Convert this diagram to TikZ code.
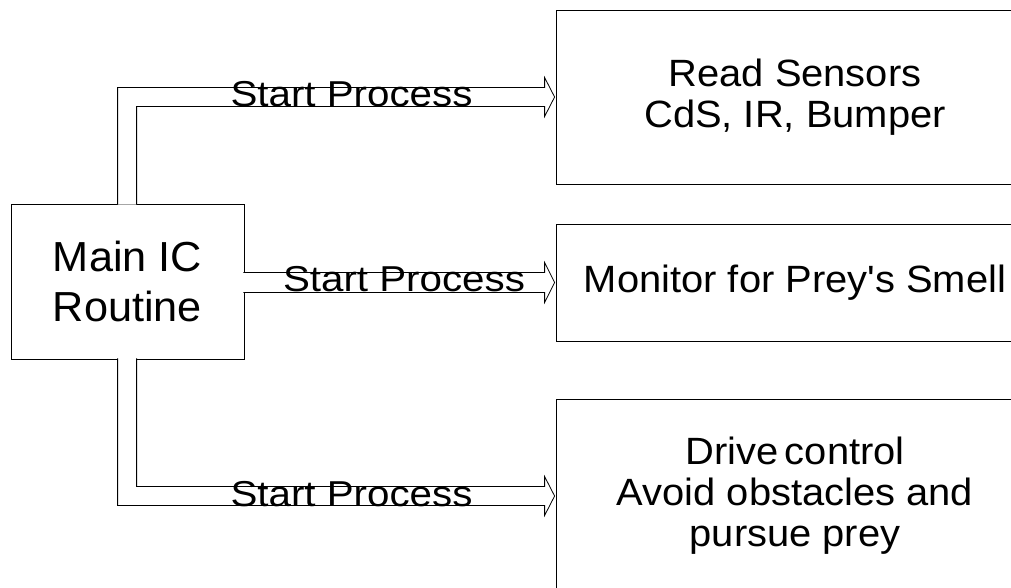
\documentclass[tikz,border=0pt]{standalone}
\usepackage{fontspec}
\setmainfont{Liberation Sans}[Ligatures=TeXOff]
\usetikzlibrary{calc}
% slightly widened lettering
\newcommand{\wideA}[1]{\scalebox{1.05}[1]{#1}}
\newcommand{\wideB}[1]{\scalebox{1.03}[1]{#1}}
\tikzset{
  frame/.style={draw=black, line width=0.8pt, inner sep=0pt, align=center},
  procbox/.style={frame, minimum width=478pt, font=\fontsize{38}{41}\selectfont},
  pipe/.style={draw=black, line width=0.8pt, line join=miter, preaction={fill=white}},
  lbl/.style={inner sep=0pt, anchor=base, font=\fontsize{36}{40}\selectfont},
}
\begin{document}
\begin{tikzpicture}[x=1pt,y=-1pt]
\path[use as bounding box] (0,0) rectangle (1011,587);
\clip (0,0) rectangle (1011,587);

% main routine
\node[frame, minimum width=233pt, minimum height=155pt,
      font=\fontsize{42}{50}\selectfont] (main) at (127.5,281.5)
  {\wideB{Main IC}\\\wideB{Routine}};

% processes
\node[procbox, minimum height=174pt] (sens) at (795,97)
  {\wideA{Read Sensors}\\\wideA{CdS, IR, Bumper}};
\node[procbox, minimum height=117pt] (mon) at (795,282.5)
  {\wideA{Monitor for Prey's Smell}};
\node[procbox, minimum height=194pt] (drive) at (795,496)
  {\wideA{Drive\,control}\\\wideA{Avoid obstacles and}\\\wideA{pursue prey}};

% hollow arrows from the main routine
\coordinate (T1) at ($(sens.west)+(-1,0)$);
\coordinate (T2) at ($(mon.west)+(-1,0)$);
\coordinate (T3) at ($(drive.west)+(-1,0)$);

\path[pipe] ($(main.north west)+(107,1)$) |- ($(T1)+(-10,-9.5)$)
  -- ++(0,-10) -- (T1) -- ($(T1)+(-10,19.5)$) -- ++(0,-10)
  -| ($(main.north west)+(126,1)$);

\path[pipe] ($(main.east |- T2)+(-1,-10)$) -- ($(T2)+(-10,-10)$)
  -- ++(0,-10) -- (T2) -- ($(T2)+(-10,20)$) -- ++(0,-10)
  -- ($(main.east |- T2)+(-1,10)$);

\path[pipe] ($(main.south west)+(107,-1)$) |- ($(T3)+(-10,9.5)$)
  -- ++(0,10) -- (T3) -- ($(T3)+(-10,-19.5)$) -- ++(0,10)
  -| ($(main.south west)+(126,-1)$);

% arrow labels
\node[lbl] (l1) at (351.5,106.5) {\scalebox{1.12}[1]{Start Process}};
\node[lbl] (l2) at (404,291.5) {\scalebox{1.12}[1]{Start Process}};
\node[lbl] (l3) at (351.5,506) {\scalebox{1.12}[1]{Start Process}};
\end{tikzpicture}
\end{document}
